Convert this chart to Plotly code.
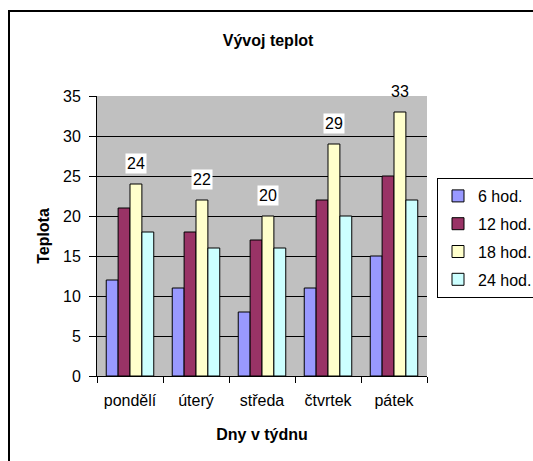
import plotly.graph_objects as go

days = ["pondělí", "úterý", "středa", "čtvrtek", "pátek"]
series_names = ["6 hod.", "12 hod.", "18 hod.", "24 hod."]
t6 = [12, 11, 8, 11, 15]
t12 = [21, 18, 17, 22, 25]
t18 = [24, 22, 20, 29, 33]
t24 = [18, 16, 16, 20, 22]
colors = ["#9999FF", "#993366", "#FFFFCC", "#CCFFFF"]

FONT = "Arial, Liberation Sans, sans-serif"
BARGAP = 0.28

fig = go.Figure()
for i, (name, vals) in enumerate(zip(series_names, [t6, t12, t18, t24])):
    fig.add_trace(go.Bar(
        x=days, y=vals, name=name, legendgroup=name,
        marker=dict(color=colors[i], line=dict(color="black", width=1)),
    ))

# data labels for the 18 hod. series (third bar of each group)
w = (1 - BARGAP) / 4
offset = 0.5 * w
for i, v in enumerate(t18):
    fig.add_annotation(
        x=i + offset, y=v, xref="x", yref="y", text=str(v), showarrow=False,
        yanchor="bottom", yshift=10, bgcolor="white" if v < 33 else "rgba(0,0,0,0)",
        borderpad=1, font=dict(family=FONT, size=16, color="black"),
    )

L, R, T, B = 97, 106, 96, 85
W, H = 533, 461
pw, ph = W - L - R, H - T - B

def px_x(px):
    return (px - L) / pw

def px_y(py):
    return (H - B - py) / ph

# outer frame
fig.add_shape(type="rect", xref="paper", yref="paper",
              x0=px_x(9), x1=px_x(545), y0=px_y(475), y1=px_y(11),
              line=dict(color="black", width=2), fillcolor="rgba(0,0,0,0)", layer="below")

fig.update_layout(
    width=W, height=H,
    margin=dict(l=L, r=R, t=T, b=B, autoexpand=False),
    paper_bgcolor="white", plot_bgcolor="#C0C0C0",
    barmode="group", bargap=BARGAP, bargroupgap=0,
    font=dict(family=FONT, size=16, color="black"),
    title=dict(text="<b>Vývoj teplot</b>", x=0.503, xanchor="center",
               y=1 - 40 / H, yanchor="middle", yref="container",
               font=dict(family=FONT, size=16, color="black")),
    legend=dict(x=px_x(437), xanchor="left", y=px_y(178), yanchor="top",
                bordercolor="black", borderwidth=1, bgcolor="white",
                font=dict(family=FONT, size=16, color="black"),
                tracegroupgap=4, itemwidth=30),
    xaxis=dict(showline=True, linecolor="black", linewidth=1,
               ticks="outside", tickson="boundaries", ticklen=6, tickcolor="black",
               showgrid=False, tickangle=0, ticklabelstandoff=10,
               title=dict(text="<b>Dny v týdnu</b>", standoff=20,
                          font=dict(family=FONT, size=16))),
    yaxis=dict(range=[0, 35], dtick=5, showline=True, linecolor="black", linewidth=1,
               ticks="outside", ticklen=7, tickcolor="black", ticklabelstandoff=5,
               showgrid=True, gridcolor="black", gridwidth=1, zeroline=False,
               title=dict(text="<b>Teplota</b>", standoff=9,
                          font=dict(family=FONT, size=16))),
)

fig.write_html("out.html", config={"displayModeBar": False},
               post_script="document.body.style.margin='0';document.body.style.overflow='hidden';")
